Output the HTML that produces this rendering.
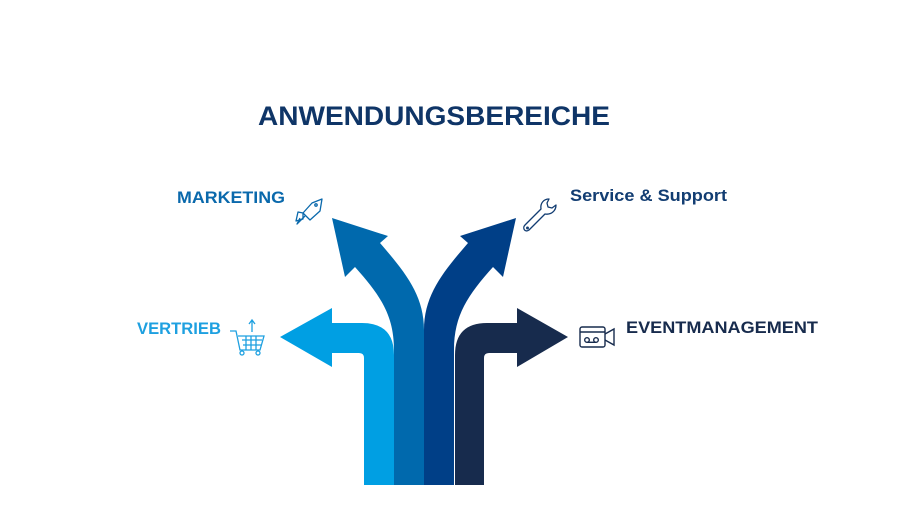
<!DOCTYPE html>
<html><head><meta charset="utf-8"><style>
html,body{margin:0;padding:0;background:#fff;}
svg{display:block;}
text{font-family:"Liberation Sans",sans-serif;font-weight:bold;}
</style></head><body>
<svg width="907" height="510" viewBox="0 0 907 510" xmlns="http://www.w3.org/2000/svg">
<rect width="907" height="510" fill="#fff"/>
<text x="258" y="125" font-size="27" fill="#0f3567" textLength="352" lengthAdjust="spacingAndGlyphs">ANWENDUNGSBEREICHE</text>
<text x="177" y="203" font-size="17" fill="#0a69ac" textLength="108" lengthAdjust="spacingAndGlyphs">MARKETING</text>
<text x="570" y="201" font-size="17" fill="#123d72" textLength="157" lengthAdjust="spacingAndGlyphs">Service &amp; Support</text>
<text x="137" y="334" font-size="17" fill="#1ea0e0" textLength="84" lengthAdjust="spacingAndGlyphs">VERTRIEB</text>
<text x="626" y="333" font-size="17" fill="#172b4d" textLength="192" lengthAdjust="spacingAndGlyphs">EVENTMANAGEMENT</text>

<path d="M364,485 L364,358 Q364,353 359,353 L332,353 L332,367 L280,337 L332,308 L332,323 L362,323 Q394,323 394,355 L394,485 Z" fill="#009fe3"/>
<path d="M484,485 L484,358 Q484,353 489,353 L517,353 L517,367 L568,337 L517,308 L517,323 L487,323 Q455,323 455,355 L455,485 Z" fill="#172b4d"/>
<path d="M394,485 L394,350 C394,315 380,295 355,267 L345,277 L332,218 L388,236 L380,243 C405,272 424,295 424,330 L424,485 Z" fill="#0069ad"/>
<path d="M454,485 L454,350 C454,315 468,295 493,267 L503,277 L516,218 L460,236 L468,243 C443,272 424,295 424,330 L424,485 Z" fill="#003f87"/>

<g fill="none" stroke="#0a69ac" stroke-width="1.3" stroke-linejoin="round">
<path d="M322,199 L312,203 L303,213 L310,220 L320,211 Z"/>
<path d="M303,213 L298,212 L296,221 L303,219 Z"/>
<path d="M305,216 L297,224 L300,218"/>
<circle cx="316" cy="205" r="1.2"/>
</g>
<g fill="none" stroke="#123d72" stroke-width="1.3" stroke-linejoin="round">
<path d="M549,199 C544,199 540,203 541,209 L525,225 C522,228 525,233 529,230 L545,214 C551,215 556,211 556,205 L552,208 L548,207 L547,203 Z"/>
<circle cx="527.5" cy="228" r="0.8"/>
</g>
<g fill="none" stroke="#1ea0e0" stroke-width="1.3">
<path d="M230,331 L236,331 L240,350 L260,350 L264,336 L238,336"/>
<path d="M242,340 L262,340 M243,345 L261,345 M246,336 L246,350 M251,336 L251,350 M256,336 L256,350"/>
<circle cx="242" cy="353" r="2"/><circle cx="258" cy="353" r="2"/>
<path d="M252,332 L252,321 M249,324 L252,320 L255,324"/>
</g>
<g fill="none" stroke="#172b4d" stroke-width="1.4">
<rect x="580" y="327" width="25" height="20" rx="2"/>
<path d="M605,334 L614,329 L614,345 L605,340"/>
<path d="M580,332 L605,332"/>
<circle cx="587" cy="340" r="2.3"/><circle cx="596" cy="340" r="2.3"/>
<path d="M587,342.3 L596,342.3"/>
</g>
</svg>
</body></html>
